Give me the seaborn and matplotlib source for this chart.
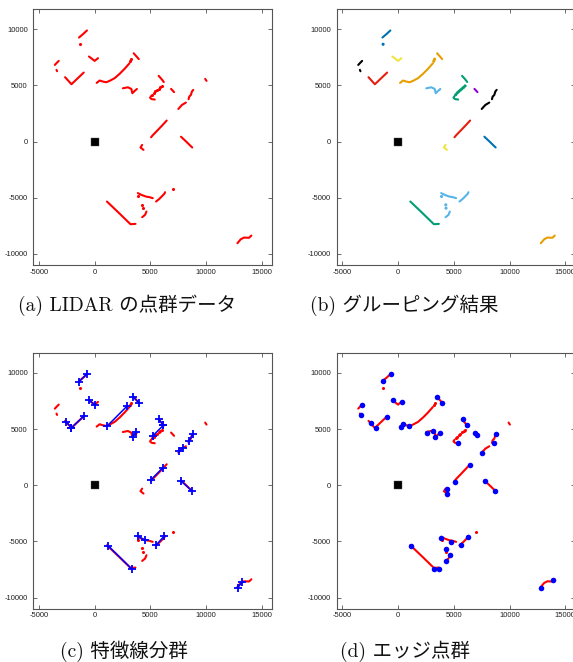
import pandas as pd
import seaborn as sns
import matplotlib.pyplot as plt

# LIDAR point clusters, written as polylines through the dense runs of points
blue_runs = [[(-1400, 9260), (-1000, 9600), (-690, 9890)],
             [(7740, 430), (8200, 0), (8750, -530)]]
blue_dots = [(-1340, 8660)]

black_runs = [[(-3570, 6820), (-3400, 7000), (-3220, 7180)],
              [(-3420, 6380), (-3370, 6260)],
              [(7500, 2900), (7830, 3260), (8180, 3470)],
              [(8420, 3770), (8480, 4000), (8630, 4150), (8720, 4450), (8840, 4600)]]

red_runs = [[(-2650, 5730), (-2080, 5100), (-980, 6140)],
            [(5060, 380), (5200, 550), (5600, 960), (6100, 1480), (6460, 1870)]]

yellow_runs = [[(-510, 7570), (0, 7180), (300, 7420)],
               [(4260, -300), (4110, -530), (4380, -740)]]

orange_runs = [[(180, 5220), (446, 5430), (744, 5340), (1040, 5280), (1340, 5400),
                (1790, 5640), (2230, 6020), (2680, 6470), (3125, 6970)],
               [(3500, 7860), (3960, 7340)],
               [(12800, -9050), (13100, -8700), (13390, -8550), (13840, -8570), (14050, -8370)]]
orange_dots = [(3200, 7150), (3274, 7330)]

lightblue_runs = [[(2530, 4740), (2980, 4830), (3290, 4680), (3380, 4300), (3580, 4500), (3790, 4680)],
                  [(3870, -4590), (4170, -4740), (4600, -4900), (4910, -4950), (5208, -5040)],
                  [(5506, -5340), (5804, -5100), (6251, -4650), (6309, -4510)],
                  [(4260, -6737), (4524, -6524), (4644, -6230)]]
lightblue_dots = [(3900, -4890), (4280, -5630), (4300, -5930)]

green_runs = [[(5740, 5850), (6000, 5560), (6200, 5300)],
              [(5060, 4050), (4970, 3900), (5100, 3780), (5390, 3740)],
              [(1100, -5340), (2200, -6380), (3214, -7360), (3660, -7330)]]
green_dots = [(6010, 4950), (5870, 4820), (5730, 4700), (5590, 4580),
              (5450, 4460), (5310, 4330), (5170, 4170)]

purple_runs = [[(6850, 4690), (7120, 4400)]]

# points not assigned to any group (hidden in panel b)
noise_runs = [[(9910, 5580), (10030, 5400)]]
noise_dots = [(6994, -4200)]

# extracted feature segments (x1, y1, x2, y2)
feature_segments = [(-1400, 9230, -690, 9910), (-2560, 5640, -2080, 5130), (-2080, 5130, -980, 6140),
                    (-510, 7570, 0, 7180), (1130, 5280, 2920, 7060), (3450, 7860, 3960, 7360),
                    (3420, 4330, 3720, 4745), (5745, 5900, 6160, 5340), (5210, 4390, 6160, 5340),
                    (7590, 3050, 7890, 3360), (8480, 3940, 8780, 4540), (5060, 500, 6100, 1540),
                    (7740, 390, 8720, -500), (3870, -4510, 4470, -4870), (5506, -5340, 6250, -4510),
                    (1220, -5400, 3360, -7480), (12830, -9110, 13240, -8600)]

# edge points
edge_x = [-1339, -595, -3270, -3360, -2440, -1994, -952, -417, 327, 238, 476, 952, 3512, 3958,
          2559, 3125, 3333, 3750, 5806, 6197, 5392, 6876, 7087, 8785, 8573, 7536, 5149, 6428,
          7768, 8690, 4345, 4405, 3813, 4767, 5599, 6287, 4260, 4644, 4260, 1131, 3215, 3661,
          12827, 13928]
edge_y = [9257, 9880, 7150, 6290, 5548, 5103, 6112, 7566, 7447, 5192, 5430, 5252, 7863, 7358,
          4658, 4866, 4300, 4690, 5874, 5340, 3738, 4690, 4450, 4540, 3800, 2910, 297, 1810,
          356, -534, -326, -801, -4655, -5046, -5340, -4566, -5634, -6230, -6737, -5430, -7476, -7414,
          -9109, -8456]

sensor_x = [0]
sensor_y = [0]

x_ticks = [-5000, 0, 5000, 10000, 15000]
y_ticks = [-10000, -5000, 0, 5000, 10000]
captions = ["(a) LIDAR の点群データ", "(b) グルーピング結果", "(c) 特徴線分群", "(d) エッジ点群"]

group_colors = {"blue": "#0072b2", "black": "#000000", "red": "#e51e10", "yellow": "#f0e442",
                "orange": "#e69f00", "lightblue": "#56b4e9", "green": "#009e73",
                "purple": "#9400d3", "noise": "#ff0000"}

groups = [("blue", blue_runs, blue_dots), ("black", black_runs, []), ("red", red_runs, []),
          ("yellow", yellow_runs, []), ("orange", orange_runs, orange_dots),
          ("lightblue", lightblue_runs, lightblue_dots), ("green", green_runs, green_dots),
          ("purple", purple_runs, []), ("noise", noise_runs, noise_dots)]

run_rows, dot_rows = [], []
run_id = 0
for name, runs, dots in groups:
    for run in runs:
        for i, (x, y) in enumerate(run):
            run_rows.append({"group": name, "run": run_id, "order": i, "x": x, "y": y})
        run_id += 1
    for x, y in dots:
        dot_rows.append({"group": name, "x": x, "y": y})
runs_df = pd.DataFrame(run_rows)
dots_df = pd.DataFrame(dot_rows)

seg_rows = []
for k, (x1, y1, x2, y2) in enumerate(feature_segments):
    seg_rows.append({"seg": k, "x": x1, "y": y1})
    seg_rows.append({"seg": k, "x": x2, "y": y2})
seg_df = pd.DataFrame(seg_rows)

sns.set_style("ticks")
plt.rcParams["axes.unicode_minus"] = False

fig = plt.figure(figsize=(5.73, 6.62), dpi=100)
W, H = 573.0, 662.0
lefts = [33.3, 336.7, 33.3, 336.7]
tops = [9.0, 9.0, 352.7, 352.7]
aw, ah = 238.7, 256.1

for k in range(4):
    ax = fig.add_axes([lefts[k] / W, 1 - (tops[k] + ah) / H, aw / W, ah / H])
    if k == 1:
        grouped = runs_df[runs_df.group != "noise"]
        sns.lineplot(data=grouped, x="x", y="y", hue="group", units="run", estimator=None,
                     sort=False, palette=group_colors, lw=1.5, legend=False, ax=ax)
        gd = dots_df[dots_df.group != "noise"]
        sns.scatterplot(data=gd, x="x", y="y", hue="group", palette=group_colors,
                        s=5, linewidth=0, legend=False, ax=ax)
    else:
        sns.lineplot(data=runs_df, x="x", y="y", units="run", estimator=None, sort=False,
                     color="#ff0000", lw=1.5, ax=ax)
        sns.scatterplot(data=dots_df, x="x", y="y", color="#ff0000", s=5, linewidth=0, ax=ax)
    if k == 2:
        sns.lineplot(data=seg_df, x="x", y="y", units="seg", estimator=None, sort=False,
                     color="#0000ff", lw=1.1, ax=ax, zorder=4)
        sns.scatterplot(data=seg_df, x="x", y="y", color="#0000ff", marker="+", s=30,
                        linewidth=1.3, ax=ax, zorder=5)
    if k == 3:
        sns.scatterplot(x=edge_x, y=edge_y, color="#0000ff", marker="o", s=16,
                        linewidth=0, ax=ax, zorder=5)
    sns.scatterplot(x=sensor_x, y=sensor_y, color="black", marker="s", s=30,
                    linewidth=0.3, edgecolor="#555555", ax=ax, zorder=6)

    ax.set_xlim(-5500, 15900)
    ax.set_ylim(-11000, 11800)
    ax.set_xticks(x_ticks)
    ax.set_yticks(y_ticks)
    ax.set_xticklabels([str(t) for t in x_ticks], fontsize=5.5, family="Liberation Sans", color="#222222")
    ax.set_yticklabels([str(t) for t in y_ticks], fontsize=5.5, family="Liberation Sans", color="#222222")
    ax.tick_params(direction="in", length=3, width=0.6, color="#555555", top=True, right=True,
                   pad=2.5)
    ax.tick_params(axis="y", pad=4)
    for sp in ax.spines.values():
        sp.set_visible(True)
        sp.set_color("#555555")
        sp.set_linewidth(0.8)
    ax.set_xlabel("")
    ax.set_ylabel("")

cap_x = [18, 310, 60, 340]
cap_base = [310.5, 310.5, 656.5, 656.5]
for k in range(4):
    fig.text(cap_x[k] / W, 1 - cap_base[k] / H, captions[k], fontsize=14, va="baseline",
             ha="left", family=["cmr10", "Noto Sans CJK JP"], color="#111111")

fig.savefig("out.png", dpi=100)
